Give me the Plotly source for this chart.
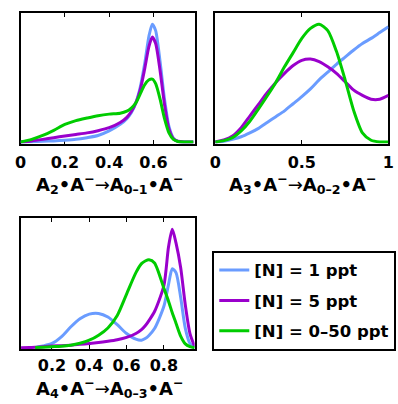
import plotly.graph_objects as go

# ---------------- data ----------------
series_names = ["[N] = 1 ppt", "[N] = 5 ppt", "[N] = 0\u201350 ppt"]
series_colors = ["#6a9cff", "#9a00cc", "#00cc00"]

# Panel 1: A2•A−→A0–1•A−
p1_x = [0, 0.05, 0.1, 0.15, 0.2, 0.25, 0.3, 0.35, 0.4, 0.45, 0.48, 0.5, 0.52, 0.54,
        0.56, 0.58, 0.595, 0.61, 0.63, 0.65, 0.67, 0.69, 0.71, 0.74, 0.78]
p1_blue = [0, 0.002, 0.005, 0.008, 0.013, 0.02, 0.033, 0.05, 0.085, 0.136, 0.18, 0.225,
           0.30, 0.42, 0.60, 0.82, 0.91, 0.86, 0.62, 0.33, 0.12, 0.03, 0.005, 0, 0]
p1_purple = [0, 0.008, 0.02, 0.033, 0.046, 0.058, 0.07, 0.087, 0.11, 0.15, 0.19, 0.235,
             0.30, 0.40, 0.56, 0.74, 0.81, 0.76, 0.55, 0.29, 0.10, 0.025, 0.005, 0, 0]
p1_green = [0, 0.02, 0.05, 0.09, 0.135, 0.165, 0.185, 0.203, 0.215, 0.222, 0.238, 0.262,
            0.30, 0.37, 0.44, 0.48, 0.486, 0.45, 0.33, 0.18, 0.07, 0.02, 0.004, 0, 0]

# Panel 2: A3•A−→A0–2•A−
p2_x = [0, 0.05, 0.1, 0.15, 0.2, 0.25, 0.3, 0.35, 0.4, 0.45, 0.5, 0.55, 0.6, 0.65,
        0.7, 0.75, 0.8, 0.85, 0.9, 0.95, 1.0]
p2_blue = [0, 0.005, 0.02, 0.04, 0.07, 0.105, 0.15, 0.195, 0.24, 0.295, 0.35, 0.41,
           0.48, 0.54, 0.60, 0.655, 0.71, 0.76, 0.80, 0.845, 0.89]
p2_purple = [0, 0.015, 0.046, 0.11, 0.20, 0.29, 0.38, 0.46, 0.53, 0.59, 0.63, 0.64,
             0.62, 0.58, 0.53, 0.465, 0.40, 0.36, 0.33, 0.33, 0.36]
p2_green = [0, 0.01, 0.033, 0.085, 0.16, 0.255, 0.355, 0.46, 0.58, 0.69, 0.80, 0.877,
            0.91, 0.86, 0.70, 0.48, 0.24, 0.07, 0.013, 0, 0]

# Panel 3: A4•A−→A0–3•A−
p3_x = [0.034, 0.08, 0.11, 0.15, 0.2, 0.25, 0.3, 0.35, 0.4, 0.45, 0.5, 0.55, 0.6, 0.65,
        0.68, 0.7, 0.72, 0.75, 0.8, 0.825, 0.845, 0.865, 0.89, 0.915, 0.94, 0.965]
p3_blue = [None, None, 0.002, 0.013, 0.033, 0.084, 0.16, 0.224, 0.26, 0.265, 0.237, 0.178,
           0.11, 0.066, 0.058, 0.071, 0.095, 0.148, 0.32, 0.49, 0.61, 0.58, 0.39, 0.15, 0.033, 0]
p3_purple = [0, 0.002, 0.003, 0.008, 0.013, 0.016, 0.02, 0.026, 0.033, 0.04, 0.05, 0.062,
             0.08, 0.11, 0.14, 0.17, 0.21, 0.28, 0.48, 0.78, 0.915, 0.81, 0.62, 0.33, 0.11, 0.01]
p3_green = [None, None, 0.001, 0.004, 0.008, 0.012, 0.02, 0.035, 0.058, 0.097, 0.153, 0.25,
            0.415, 0.58, 0.65, 0.67, 0.68, 0.655, 0.46, 0.36, 0.27, 0.19, 0.09, 0.03, 0.008, 0]

p1_ticks = [0, 0.2, 0.4, 0.6]
p1_ticklabels = ["0", "0.2", "0.4", "0.6"]
p2_ticks = [0, 0.5, 1]
p2_ticklabels = ["0", "0.5", "1"]
p3_ticks = [0.2, 0.4, 0.6, 0.8]
p3_ticklabels = ["0.2", "0.4", "0.6", "0.8"]

ARROW = "<span style='font-weight:normal'>\u2192</span>"
titles = [
    "A<sub>2</sub>\u2022A<sup>\u2212</sup>" + ARROW + "A<sub>0\u20131</sub>\u2022A<sup>\u2212</sup>",
    "A<sub>3</sub>\u2022A<sup>\u2212</sup>" + ARROW + "A<sub>0\u20132</sub>\u2022A<sup>\u2212</sup>",
    "A<sub>4</sub>\u2022A<sup>\u2212</sup>" + ARROW + "A<sub>0\u20133</sub>\u2022A<sup>\u2212</sup>",
]

# ---------------- figure ----------------
W, H = 398, 404
FONT = "DejaVu Sans"
fig = go.Figure()

panels = [
    ("x", "y", p1_x, [p1_blue, p1_purple, p1_green]),
    ("x2", "y2", p2_x, [p2_blue, p2_purple, p2_green]),
    ("x3", "y3", p3_x, [p3_blue, p3_purple, p3_green]),
]
for pi, (xa, ya, xs, ys) in enumerate(panels):
    for si, yv in enumerate(ys):
        fig.add_trace(go.Scatter(
            x=xs, y=yv, xaxis=xa, yaxis=ya, mode="lines",
            line=dict(color=series_colors[si], width=3, shape="spline", smoothing=0.7),
            name=series_names[si], legendgroup=series_names[si],
            showlegend=(pi == 0), connectgaps=False,
        ))

def px_x(v):
    return v / W

def px_y(v):
    return 1 - v / H

axis_common = dict(showline=True, linecolor="black", linewidth=2, mirror="ticks",
                   ticks="inside", ticklen=4, tickwidth=1, tickcolor="black",
                   showgrid=False, zeroline=False, layer="below traces",
                   ticklabeloverflow="allow",
                   tickfont=dict(family=FONT, size=16, color="black", weight="bold"))
yaxis_common = dict(showline=True, linecolor="black", linewidth=2, mirror=True,
                    ticks="", showticklabels=False, showgrid=False, zeroline=False,
                    range=[-0.012, 1.0], layer="below traces")

dom1x = [px_x(15), px_x(194.5)]
dom2x = [px_x(215.7), px_x(394.3)]
dom3x = [px_x(15.5), px_x(194.5)]
domTop = [px_y(143.5), px_y(12.5)]
domBot = [px_y(349.3), px_y(218.3)]

fig.update_layout(
    width=W, height=H, margin=dict(l=0, r=0, t=0, b=0),
    paper_bgcolor="white", plot_bgcolor="white",
    font=dict(family=FONT, size=16, color="black", weight="bold"),
    xaxis=dict(domain=dom1x, anchor="y", range=[0, 0.786], tickvals=p1_ticks,
               ticktext=p1_ticklabels, ticklabelstandoff=3, **axis_common),
    yaxis=dict(domain=domTop, anchor="x", **yaxis_common),
    xaxis2=dict(domain=dom2x, anchor="y2", range=[0, 1], tickvals=p2_ticks,
                ticktext=p2_ticklabels, ticklabelstandoff=3, **axis_common),
    yaxis2=dict(domain=domTop, anchor="x2", **yaxis_common),
    xaxis3=dict(domain=dom3x, anchor="y3", range=[0.034, 0.965], tickvals=p3_ticks,
                ticktext=p3_ticklabels, ticklabelstandoff=0, **axis_common),
    yaxis3=dict(domain=domBot, anchor="x3", **yaxis_common),
    legend=dict(x=px_x(212.7), y=px_y(250.7), xanchor="left", yanchor="top",
                bordercolor="black", borderwidth=2, bgcolor="white",
                font=dict(family=FONT, size=16.5, color="black", weight="bold"),
                tracegroupgap=6, itemwidth=30),
    showlegend=True,
)

title_pos = [((15 + 194.5) / 2 + 2, 169), ((215.7 + 394.3) / 2 + 1, 169), ((15.5 + 194.5) / 2 + 2, 372.5)]
for t, (cx, ty) in zip(titles, title_pos):
    fig.add_annotation(text=t, x=px_x(cx), y=px_y(ty), xref="paper", yref="paper",
                       xanchor="center", yanchor="top", showarrow=False,
                       font=dict(family=FONT, size=18, color="black", weight="bold"))

fig.write_html("out.html", config={"displayModeBar": False},
               post_script="document.body.style.margin='0';document.body.style.overflow='hidden';")
